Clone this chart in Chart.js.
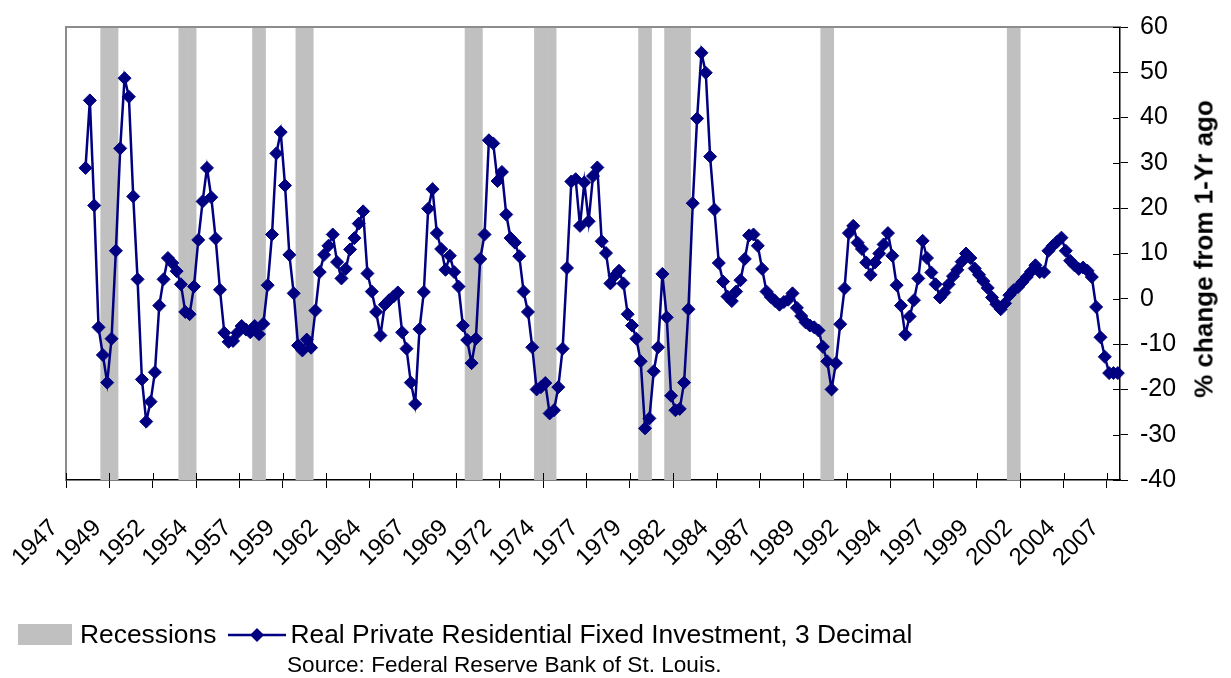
<!DOCTYPE html>
<html>
<head>
<meta charset="utf-8">
<script src="https://cdn.jsdelivr.net/npm/chart.js@4.4.1/dist/chart.umd.min.js"></script>
<style>
  body { margin: 0; background: #fff; }
  #wrap { position: relative; width: 1231px; height: 678px; font-family: "Liberation Sans", Arial, sans-serif; color: #000; }
  #chart { position: absolute; left: 0; top: 0; }
  #ytitle { position: absolute; left: 1204px; top: 249px; transform: translate(-50%, -50%) rotate(-90deg); font-size: 26px; font-weight: bold; white-space: nowrap; }
  #legend { position: absolute; left: 18px; top: 619px; font-size: 26.4px; display: flex; align-items: center; white-space: nowrap; }
  .swatch { width: 54px; height: 21px; background: #c0c0c0; margin-right: 8px; }
  #legend svg { margin: 0 4px 0 12px; }
  #source { position: absolute; left: 287px; top: 652px; font-size: 22.6px; white-space: nowrap; }
</style>
</head>
<body>
<div id="wrap">
  <canvas id="chart" width="1231" height="678"></canvas>
  <div id="ytitle">% change from 1-Yr ago</div>
  <div id="legend">
    <div class="swatch"></div><span>Recessions</span>
    <svg width="58" height="20"><line x1="0" y1="10" x2="58" y2="10" stroke="#000080" stroke-width="2.5"/><polygon points="29,3 36,10 29,17 22,10" fill="#000080"/></svg>
    <span>Real Private Residential Fixed Investment, 3 Decimal</span>
  </div>
  <div id="source">Source: Federal Reserve Bank of St. Louis.</div>
</div>
<script>
// quarterly categories 1947Q1 .. 2007Q3, a year label every 10 quarters
const firstYear = 1947;
const quarterCount = 243;
const tickLabels = ['1947', '1949', '1952', '1954', '1957', '1959', '1962', '1964', '1967', '1969',
    '1972', '1974', '1977', '1979', '1982', '1984', '1987', '1989', '1992', '1994',
    '1997', '1999', '2002', '2004', '2007'];

const recessions = [
    ['1949Q1', '1949Q4'], ['1953Q3', '1954Q2'], ['1957Q4', '1958Q2'], ['1960Q2', '1961Q1'],
    ['1970Q1', '1970Q4'], ['1974Q1', '1975Q1'], ['1980Q1', '1980Q3'], ['1981Q3', '1982Q4'],
    ['1990Q3', '1991Q1'], ['2001Q2', '2001Q4']
];

// Real private residential fixed investment, % change from a year ago (one row per year)
const resInvestment = [
    null, null, null, null,
    28.9, 43.8, 20.6, -6.3,
    -12.4, -18.5, -8.8, 10.6,
    33.2, 48.7, 44.6, 22.6,
    4.3, -17.8, -27.1, -22.7,
    -16.2, -1.5, 4.3, 9.0,
    7.9, 6.1, 3.2, -2.9,
    -3.4, 2.7, 13.0, 21.5,
    28.9, 22.4, 13.3, 2.0,
    -7.5, -9.5, -9.3, -7.5,
    -6.0, -6.8, -7.4, -6.0,
    -7.8, -5.5, 3.0, 14.2,
    32.1, 36.8, 25.0, 9.7,
    1.2, -10.3, -11.4, -9.0,
    -10.8, -2.6, 5.9, 9.7,
    11.7, 14.2, 8.1, 4.5,
    6.6, 10.9, 13.4, 16.6,
    19.3, 5.6, 1.6, -2.9,
    -8.1, -1.3, -0.3, 0.5,
    1.4, -7.4, -11.0, -18.5,
    -23.2, -6.7, 1.5, 19.9,
    24.2, 14.5, 11.0, 6.4,
    9.5, 5.9, 2.7, -5.9,
    -9.1, -14.2, -8.8, 8.8,
    14.2, 35.0, 34.3, 26.0,
    28.0, 18.6, 13.4, 12.4,
    9.4, 1.6, -2.9, -10.7,
    -20.0, -19.5, -18.6, -25.3,
    -24.6, -19.5, -11.0, 6.8,
    25.9, 26.4, 16.1, 25.7,
    17.1, 27.1, 29.0, 12.7,
    10.1, 3.4, 5.1, 6.2,
    3.4, -3.4, -5.9, -8.8,
    -13.8, -28.6, -26.4, -16.0,
    -10.7, 5.5, -4.1, -21.4,
    -24.6, -24.3, -18.5, -2.3,
    21.1, 39.8, 54.3, 49.9,
    31.4, 19.7, 7.9, 3.8,
    0.5, -0.5, 1.6, 4.1,
    8.8, 14.0, 14.2, 11.7,
    6.6, 1.6, 0.4, -0.5,
    -1.3, -0.7, -0.2, 1.2,
    -2.0, -3.8, -5.2, -5.9,
    -6.3, -7.0, -10.6, -13.8,
    -20.0, -14.2, -5.6, 2.3,
    14.5, 16.1, 12.4, 11.0,
    8.0, 5.3, 8.0, 10.0,
    12.0, 14.5, 9.5, 3.0,
    -1.5, -7.9, -3.9, -0.3,
    4.5, 12.8, 9.0, 5.8,
    3.2, 0.3, 1.4, 3.2,
    5.0, 6.4, 8.2, 10.0,
    9.0, 6.7, 5.3, 3.9,
    2.4, 0.3, -1.2, -2.3,
    -1.0, 0.8, 1.9, 2.6,
    3.7, 4.8, 6.0, 7.4,
    5.9, 5.9, 10.6, 11.7,
    12.6, 13.5, 10.6, 8.4,
    7.4, 6.6, 6.9, 6.2,
    4.8, -1.8, -8.5, -12.8,
    -16.4, -16.4, -16.4
];

const yMin = -40, yMax = 60;

const quarters = [];
for (let i = 0; i < quarterCount; i++) {
    quarters.push((firstYear + Math.floor(i / 4)) + 'Q' + (i % 4 + 1));
}

// full-height floating bars for recession quarters
const recessionBars = quarters.map(() => null);
recessions.forEach(([from, to]) => {
    for (let i = quarters.indexOf(from); i <= quarters.indexOf(to); i++) {
        recessionBars[i] = [yMin, yMax];
    }
});

const tickOn = ctx => ctx.index % 10 === 0 ? '#000' : 'rgba(0,0,0,0)';

// gray frame on top/left and the inner half of the tick marks
const frame = {
    id: 'frame',
    afterDraw(chart) {
        const { ctx, chartArea: a, scales: { x, y } } = chart;
        ctx.save();
        ctx.strokeStyle = '#8c8c8c';
        ctx.lineWidth = 2;
        ctx.beginPath();
        ctx.moveTo(a.left, a.bottom);
        ctx.lineTo(a.left, a.top);
        ctx.lineTo(a.right, a.top);
        ctx.stroke();

        ctx.strokeStyle = '#000';
        ctx.lineWidth = 1;
        ctx.beginPath();
        const step = (a.right - a.left) / quarterCount;
        for (let i = 0; i < quarterCount; i += 10) {
            const px = Math.round(a.left + i * step) + 0.5;
            ctx.moveTo(px, a.bottom);
            ctx.lineTo(px, a.bottom - 7);
        }
        y.ticks.forEach(t => {
            const py = Math.round(y.getPixelForValue(t.value)) + 0.5;
            ctx.moveTo(a.right, py);
            ctx.lineTo(a.right - 7, py);
        });
        ctx.stroke();
        ctx.restore();
    }
};

Chart.defaults.font.family = '"Liberation Sans", Arial, sans-serif';
Chart.defaults.color = '#000';

new Chart(document.getElementById('chart'), {
    type: 'bar',
    data: {
        labels: quarters,
        datasets: [
            {
                type: 'line',
                label: 'Real Private Residential Fixed Investment, 3 Decimal',
                data: resInvestment,
                borderColor: '#000080',
                backgroundColor: '#000080',
                borderWidth: 2.5,
                pointStyle: 'rectRot',
                pointRadius: 6.5,
                pointBorderWidth: 1,
                pointBackgroundColor: '#000080',
                pointBorderColor: '#000080',
                tension: 0,
                order: 1
            },
            {
                label: 'Recessions',
                data: recessionBars,
                backgroundColor: '#c0c0c0',
                borderWidth: 0,
                barPercentage: 1,
                categoryPercentage: 1,
                order: 2
            }
        ]
    },
    options: {
        responsive: false,
        animation: false,
        devicePixelRatio: 1,
        layout: { padding: { left: 66, top: 16, right: 0, bottom: 0 } },
        plugins: {
            legend: { display: false },
            tooltip: { enabled: false }
        },
        scales: {
            x: {
                offset: true,
                grid: {
                    offset: true,
                    drawOnChartArea: false,
                    tickLength: 8,
                    color: tickOn,
                    tickColor: tickOn
                },
                border: { color: '#000', width: 1.5 },
                ticks: {
                    autoSkip: false,
                    maxRotation: 45,
                    minRotation: 45,
                    padding: 26,
                    labelOffset: -14,
                    font: { size: 24 },
                    callback: (v, i) => i % 10 === 0 ? tickLabels[i / 10] : ''
                },
                afterFit: s => { s.height = 198; }
            },
            y: {
                position: 'right',
                min: yMin,
                max: yMax,
                grid: {
                    drawOnChartArea: false,
                    tickLength: 8,
                    color: '#000'
                },
                border: { color: '#000', width: 1.5 },
                ticks: {
                    stepSize: 10,
                    padding: 12,
                    font: { size: 25 }
                },
                afterFit: s => { s.width = 111; }
            }
        }
    },
    plugins: [frame]
});
</script>
</body>
</html>
